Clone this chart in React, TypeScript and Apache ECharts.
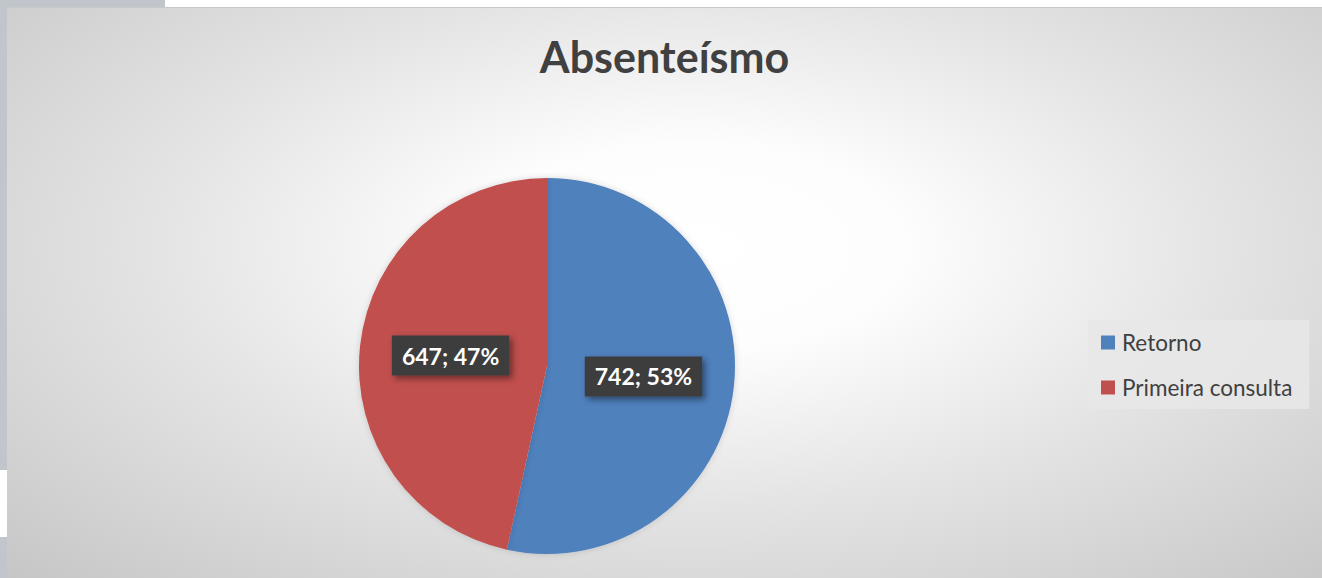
import React, { useEffect, useRef } from "react";
import * as echarts from "echarts";

const titleText = "Absenteísmo";
const categories = ["Retorno", "Primeira consulta"];
const values = [742, 647];
const colors = ["#4F81BD", "#C0504D"];

export default function App() {
  const ref = useRef<HTMLDivElement>(null);
  useEffect(() => {
    const chart = echarts.init(ref.current!, null, { renderer: "svg" });
    const total = values.reduce((a, b) => a + b, 0);
    chart.setOption({
      animation: false,
      backgroundColor: "transparent",
      title: {
        text: titleText,
        left: "center",
        top: 22,
        textStyle: { fontFamily: "Lato", fontWeight: "bold", fontSize: 43, color: "#404040" },
      },
      legend: {
        orient: "vertical",
        left: 1081,
        top: 312,
        backgroundColor: "rgba(232,232,232,0.85)",
        padding: [11, 17, 10, 13],
        itemWidth: 14,
        itemHeight: 14,
        itemGap: 22,
        icon: "rect",
        data: categories,
        textStyle: { fontFamily: "Lato", fontSize: 22.5, color: "#404040", padding: [0, 0, 0, 2] },
      },
      series: [
        {
          type: "pie",
          center: [540, 358],
          radius: 188,
          startAngle: 90,
          clockwise: true,
          color: colors,
          itemStyle: { borderWidth: 0, shadowBlur: 6, shadowColor: "rgba(0,0,0,0.15)" },
          label: {
            show: true,
            position: "inside",
            formatter: (p: any) => `${p.value}; ${Math.round((p.value / total) * 100)}%`,
            fontFamily: "Lato",
            fontWeight: "bold",
            fontSize: 23,
            color: "#ffffff",
            backgroundColor: "#3d3d3d",
            padding: [9, 10, 8, 10],
            shadowColor: "rgba(0,0,0,0.45)",
            shadowBlur: 6,
            shadowOffsetX: 3,
            shadowOffsetY: 3,
          },
          labelLine: { show: false },
          emphasis: { disabled: true },
          data: categories.map((c, i) => ({ name: c, value: values[i] })),
        },
      ],
    });
    return () => chart.dispose();
  }, []);
  return (
    <div style={{ position: "fixed", left: 0, top: 0, width: 1322, height: 578, background: "#ffffff", overflow: "hidden" }}>
      <div style={{ position: "absolute", left: 0, top: 0, width: 165, height: 7, background: "#c0c6cc" }} />
      <div style={{ position: "absolute", left: 0, top: 0, width: 7, height: 470, background: "#c0c6cc" }} />
      <div style={{ position: "absolute", left: 0, top: 537, width: 7, height: 41, background: "#c0c6cc" }} />
      <div
        style={{
          position: "absolute",
          left: 7,
          top: 7,
          width: 1315,
          height: 571,
          borderTop: "1px solid #c8c8c8",
          boxSizing: "border-box",
          background: "radial-gradient(ellipse farthest-corner at 52% 42%, #ffffff 0%, #fdfdfd 22%, #e4e4e4 55%, #c6c6c6 100%)",
        }}
      >
        <div ref={ref} style={{ width: 1315, height: 571 }} />
      </div>
    </div>
  );
}
